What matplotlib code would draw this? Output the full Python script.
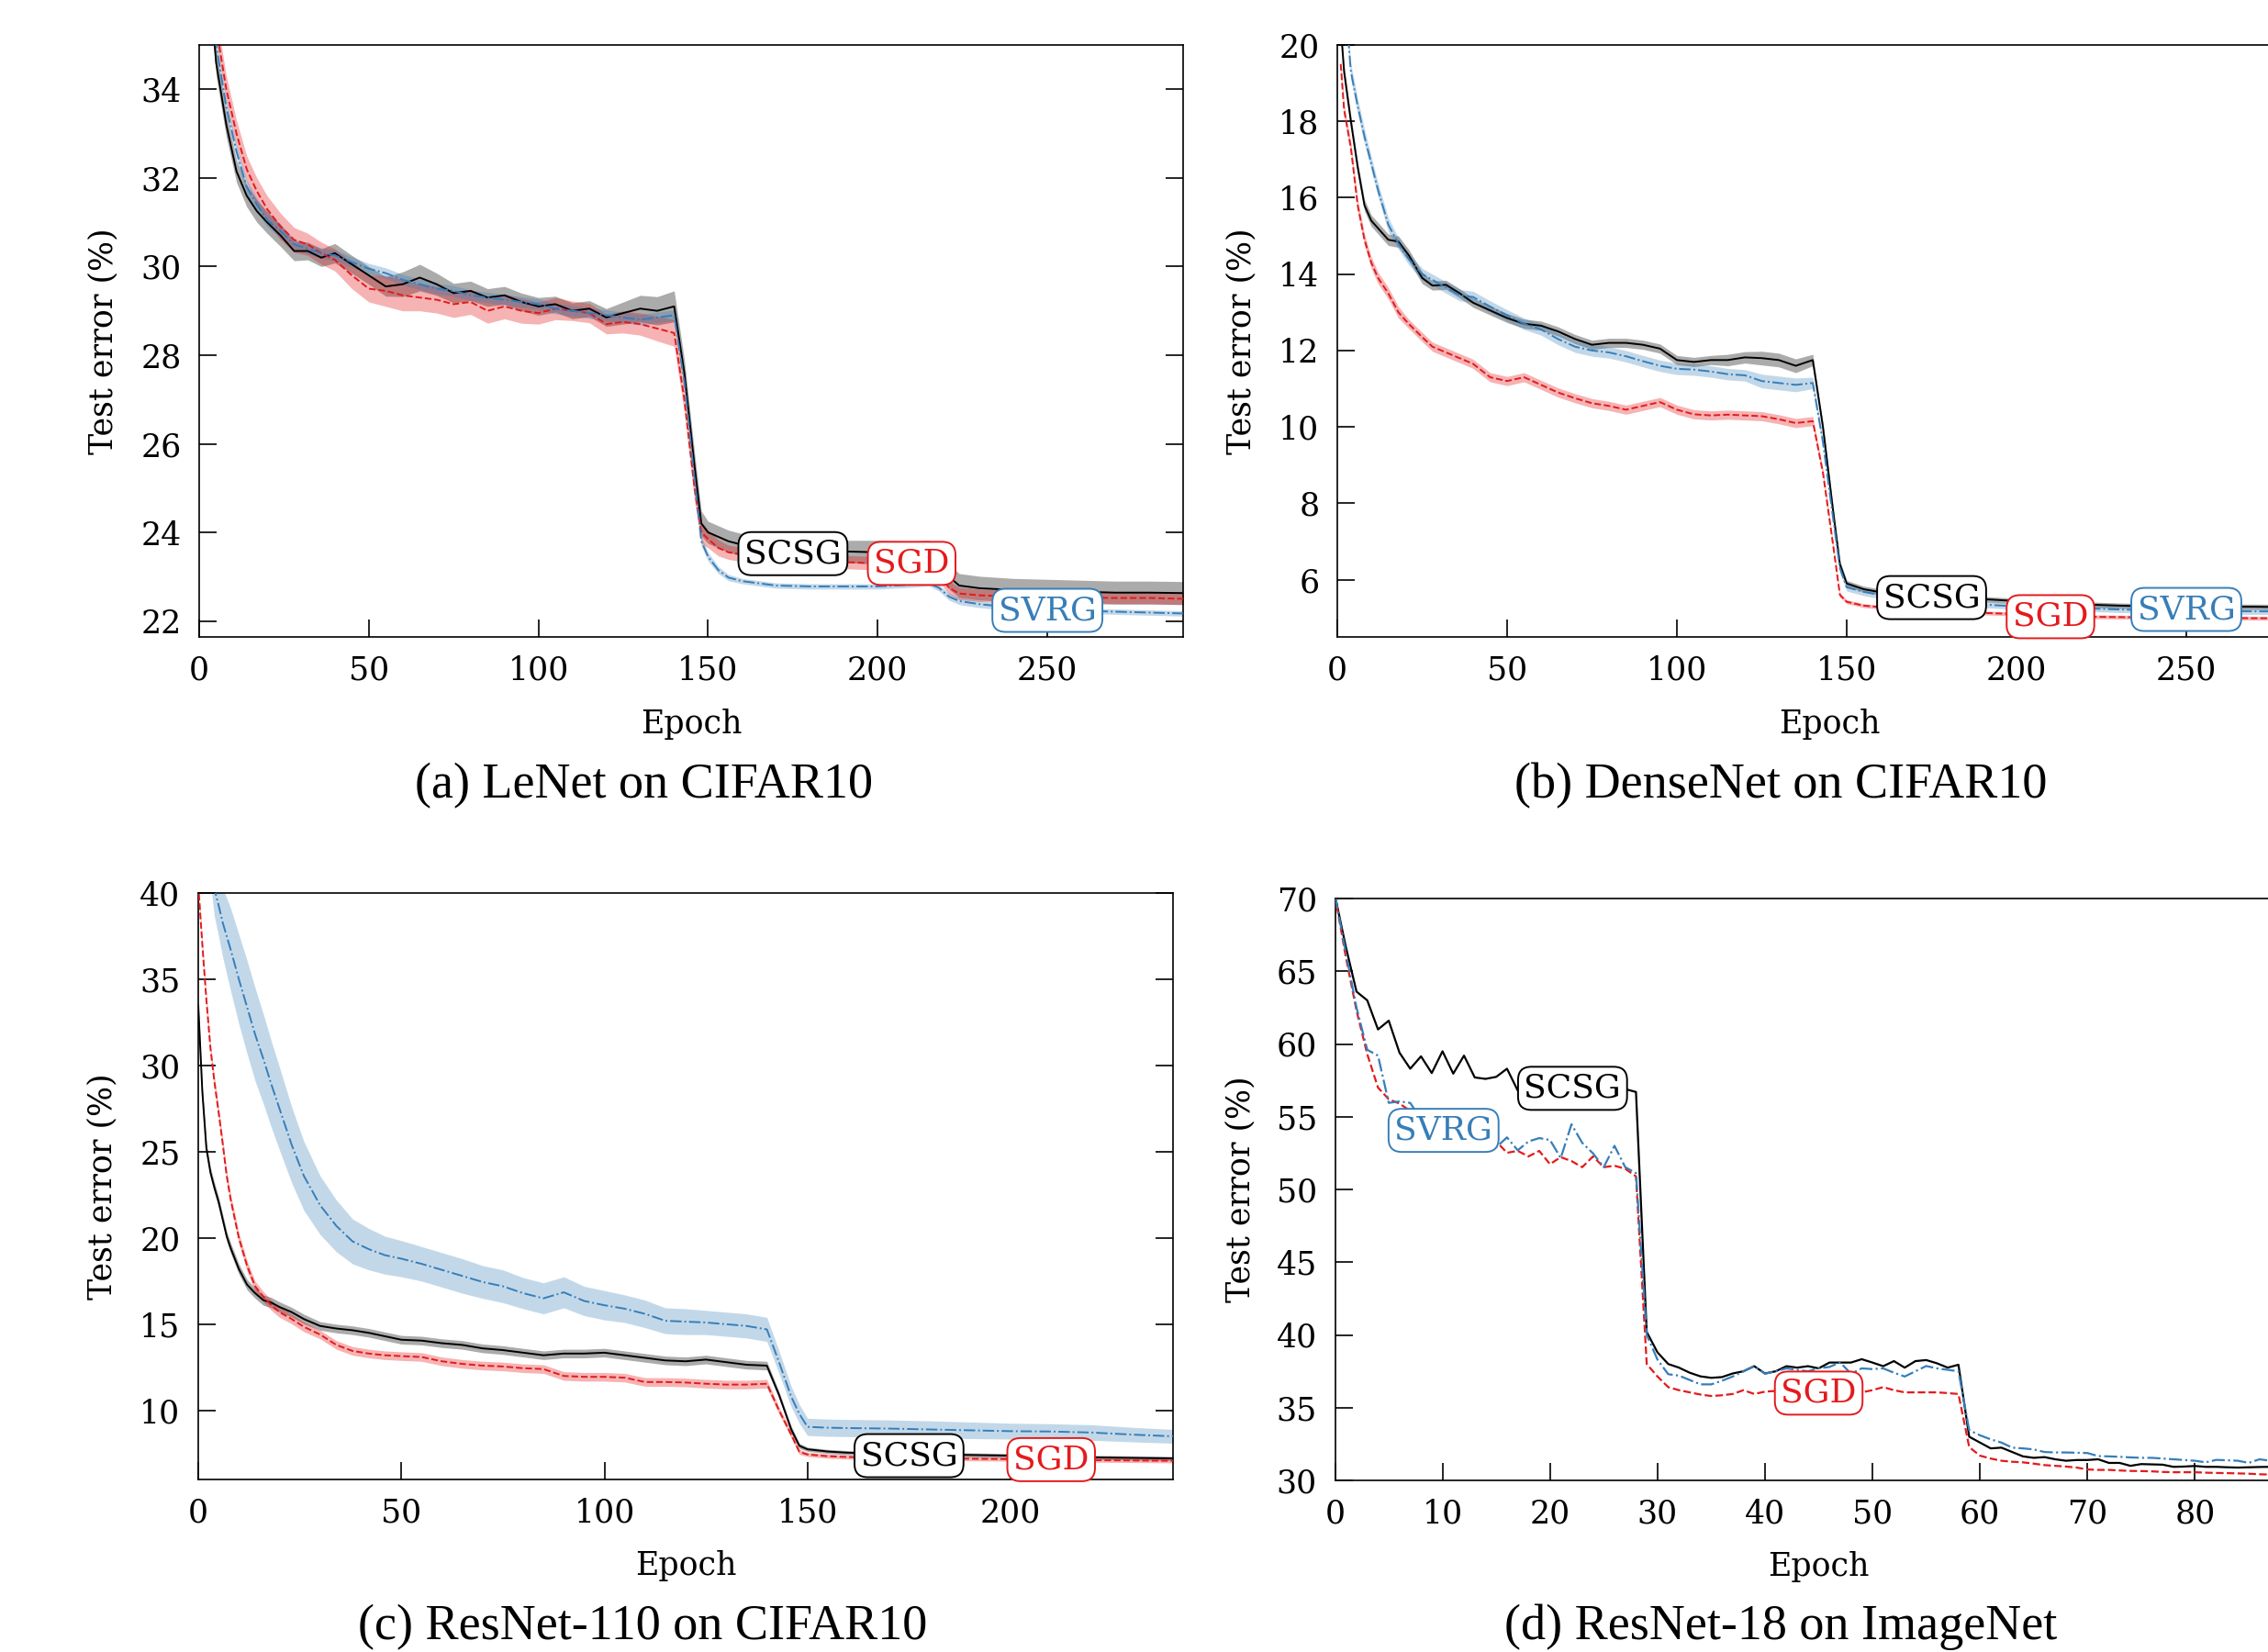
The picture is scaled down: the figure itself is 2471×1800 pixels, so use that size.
import numpy as np
import matplotlib
matplotlib.use("Agg")
import matplotlib.pyplot as plt

plt.rcParams['font.family'] = 'DejaVu Serif'

# ---------------- data: (a) LeNet on CIFAR10 ----------------
a_epoch = [1, 3, 5, 8, 11, 14, 17, 20, 24, 28, 32, 36, 40,
           45, 50, 55, 60, 65, 70, 75, 80, 85, 90, 95, 100, 105, 110, 115, 120, 125, 130, 135, 140,
           143, 146, 148, 150, 153, 156, 160,
           170, 180, 190, 200, 210, 215, 218, 221, 224,
           230, 240, 250, 260, 270, 280, 290]
a_scsg = [38.6, 36.4, 34.6, 33.2, 32.15, 31.6, 31.25, 31.0, 30.7, 30.35, 30.35, 30.2, 30.3,
          30.05, 29.8, 29.55, 29.6, 29.75, 29.6, 29.4, 29.45, 29.3, 29.35, 29.2, 29.1, 29.15, 29.0, 29.05, 28.85, 28.95, 29.05, 29.0, 29.1,
          27.6, 25.5, 24.2, 24.0, 23.9, 23.8, 23.72,
          23.62, 23.58, 23.57, 23.55, 23.5, 23.5, 23.35, 23.0, 22.8,
          22.74, 22.7, 22.68, 22.66, 22.64, 22.64, 22.63]
a_sgd = [39.5, 37.0, 35.4, 34.0, 33.0, 32.2, 31.7, 31.3, 30.9, 30.6, 30.5, 30.3, 30.15,
         29.8, 29.5, 29.45, 29.35, 29.3, 29.25, 29.15, 29.2, 29.0, 29.1, 29.0, 28.95, 29.05, 29.0, 28.95, 28.7, 28.75, 28.7, 28.6, 28.5,
         27.0, 25.0, 24.0, 23.85, 23.65, 23.55, 23.5,
         23.42, 23.38, 23.33, 23.3, 23.28, 23.25, 23.05, 22.75, 22.62,
         22.58, 22.55, 22.54, 22.53, 22.52, 22.52, 22.5]
a_svrg = [39.0, 36.8, 35.0, 33.6, 32.6, 31.8, 31.4, 31.05, 30.8, 30.5, 30.4, 30.3, 30.25,
          30.1, 29.95, 29.85, 29.7, 29.6, 29.5, 29.45, 29.35, 29.3, 29.25, 29.2, 29.15, 29.05, 29.0, 28.95, 28.9, 28.85, 28.8, 28.85, 28.9,
          27.4, 25.2, 23.8, 23.45, 23.15, 22.98, 22.9,
          22.8, 22.78, 22.78, 22.78, 22.82, 22.85, 22.75, 22.55, 22.45,
          22.38, 22.3, 22.26, 22.23, 22.21, 22.19, 22.17]
a_scsg_sd = [0.3, 0.3, 0.3, 0.28, 0.25, 0.25, 0.25, 0.25, 0.25, 0.22, 0.2, 0.2, 0.22,
             0.2, 0.2, 0.22, 0.28, 0.3, 0.25, 0.22, 0.22, 0.2, 0.2, 0.2, 0.2, 0.18, 0.18, 0.18, 0.2, 0.25, 0.3, 0.32, 0.35,
             0.3, 0.3, 0.28, 0.25, 0.25, 0.25, 0.25,
             0.25, 0.25, 0.25, 0.27, 0.3, 0.32, 0.3, 0.28, 0.27,
             0.27, 0.26, 0.26, 0.26, 0.26, 0.26, 0.26]
a_sgd_sd = [0.25, 0.3, 0.3, 0.3, 0.3, 0.3, 0.3, 0.3, 0.3, 0.28, 0.25, 0.25, 0.25,
            0.3, 0.3, 0.35, 0.35, 0.3, 0.3, 0.3, 0.28, 0.28, 0.28, 0.28, 0.25, 0.25, 0.22, 0.22, 0.22, 0.25, 0.25, 0.28, 0.3,
            0.3, 0.3, 0.25, 0.2, 0.18, 0.16, 0.16,
            0.15, 0.15, 0.15, 0.15, 0.15, 0.15, 0.15, 0.15, 0.14,
            0.14, 0.13, 0.13, 0.13, 0.13, 0.13, 0.13]
a_svrg_sd = [0.15, 0.15, 0.15, 0.15, 0.15, 0.15, 0.15, 0.15, 0.15, 0.12, 0.12, 0.12, 0.12,
             0.12, 0.12, 0.12, 0.12, 0.12, 0.12, 0.12, 0.12, 0.12, 0.12, 0.12, 0.12, 0.12, 0.12, 0.12, 0.12, 0.12, 0.12, 0.12, 0.12,
             0.12, 0.12, 0.1, 0.1, 0.08, 0.07, 0.06,
             0.06, 0.06, 0.06, 0.06, 0.06, 0.06, 0.07, 0.08, 0.08,
             0.08, 0.07, 0.07, 0.06, 0.06, 0.06, 0.06]

# ---------------- data: (b) DenseNet on CIFAR10 ----------------
b_epoch = [1, 2, 4, 6, 8, 10, 12, 15, 18, 21, 25, 28, 32, 36, 40,
           45, 50, 55, 60, 65, 70, 75, 80, 85, 90, 95, 100, 105, 110, 115, 120, 125, 130, 135, 140,
           143, 146, 148, 150, 155, 160,
           170, 180, 190, 200, 210, 220, 230, 240, 250, 260, 270, 280, 290]
b_scsg = [20.5, 19.3, 18.0, 16.8, 15.8, 15.4, 15.2, 14.9, 14.85, 14.5, 13.9, 13.7, 13.72, 13.5, 13.25,
          13.05, 12.85, 12.7, 12.65, 12.5, 12.3, 12.15, 12.2, 12.2, 12.15, 12.05, 11.75, 11.7, 11.75, 11.75, 11.82, 11.8, 11.75, 11.6, 11.75,
          10.0, 7.8, 6.4, 5.9, 5.75, 5.67,
          5.58, 5.52, 5.49, 5.44, 5.4, 5.35, 5.32, 5.3, 5.3, 5.29, 5.29, 5.28, 5.28]
b_sgd = [19.5, 18.3, 17.3, 15.8, 14.9, 14.3, 13.9, 13.5, 13.0, 12.7, 12.35, 12.1, 11.95, 11.8, 11.65,
         11.3, 11.2, 11.3, 11.1, 10.9, 10.75, 10.62, 10.55, 10.45, 10.55, 10.65, 10.45, 10.33, 10.3, 10.32, 10.3, 10.28, 10.2, 10.1, 10.15,
         8.8, 6.9, 5.6, 5.42, 5.32, 5.28,
         5.22, 5.17, 5.13, 5.1, 5.06, 5.03, 5.02, 5.01, 5.0, 5.0, 4.99, 4.99, 4.99]
b_svrg = [23.0, 21.5, 19.3, 18.4, 17.6, 16.9, 16.2, 15.3, 14.8, 14.4, 14.0, 13.85, 13.65, 13.45, 13.4,
          13.15, 12.92, 12.7, 12.55, 12.3, 12.1, 12.0, 11.95, 11.85, 11.72, 11.6, 11.52, 11.5, 11.45, 11.38, 11.35, 11.2, 11.15, 11.1, 11.15,
          9.6, 7.6, 6.3, 5.8, 5.68, 5.6,
          5.5, 5.42, 5.35, 5.3, 5.27, 5.25, 5.22, 5.2, 5.19, 5.18, 5.17, 5.17, 5.16]
b_scsg_sd = [0.15, 0.15, 0.15, 0.15, 0.15, 0.15, 0.15, 0.15, 0.15, 0.15, 0.15, 0.12, 0.12, 0.12, 0.12,
             0.12, 0.12, 0.12, 0.12, 0.12, 0.12, 0.12, 0.12, 0.12, 0.12, 0.12, 0.12, 0.12, 0.12, 0.15, 0.15, 0.18, 0.18, 0.18, 0.15,
             0.12, 0.1, 0.1, 0.08, 0.08, 0.08,
             0.07, 0.07, 0.07, 0.07, 0.07, 0.07, 0.07, 0.07, 0.07, 0.07, 0.07, 0.07, 0.07]
b_sgd_sd = [0.15, 0.15, 0.15, 0.15, 0.15, 0.15, 0.15, 0.15, 0.15, 0.12, 0.12, 0.12, 0.12, 0.12, 0.12,
            0.12, 0.12, 0.12, 0.12, 0.12, 0.12, 0.12, 0.12, 0.12, 0.12, 0.12, 0.12, 0.12, 0.12, 0.12, 0.12, 0.12, 0.12, 0.12, 0.12,
            0.1, 0.08, 0.06, 0.05, 0.05, 0.05,
            0.05, 0.05, 0.05, 0.05, 0.05, 0.05, 0.05, 0.05, 0.05, 0.05, 0.05, 0.05, 0.05]
b_svrg_sd = [0.2, 0.2, 0.2, 0.2, 0.2, 0.18, 0.18, 0.18, 0.15, 0.15, 0.15, 0.15, 0.15, 0.15, 0.15,
             0.15, 0.15, 0.15, 0.15, 0.15, 0.15, 0.15, 0.15, 0.15, 0.15, 0.15, 0.15, 0.15, 0.15, 0.15, 0.15, 0.18, 0.18, 0.18, 0.15,
             0.12, 0.12, 0.12, 0.1, 0.1, 0.1,
             0.08, 0.08, 0.08, 0.08, 0.08, 0.08, 0.08, 0.08, 0.08, 0.08, 0.08, 0.08, 0.08]

# ---------------- data: (c) ResNet-110 on CIFAR10 ----------------
c_epoch = [0, 1, 2, 3, 4, 5, 6, 7, 8,
           10, 12, 14, 16, 18, 20,
           23, 26, 30, 34, 38, 42, 46, 50,
           55, 60, 65, 70, 75, 80, 85, 90, 95, 100, 105, 110, 115, 120, 125, 130, 135, 140,
           143, 146, 148, 150, 155, 160,
           170, 180, 190, 200, 210, 220, 230, 240]
c_scsg = [33.5, 28.5, 25.2, 23.8, 22.9, 22.1, 21.1, 20.1, 19.4,
          18.2, 17.3, 16.8, 16.4, 16.25, 16.0,
          15.7, 15.3, 14.9, 14.75, 14.65, 14.5, 14.3, 14.1,
          14.05, 13.9, 13.8, 13.6, 13.5, 13.35, 13.2, 13.3, 13.3, 13.35, 13.2, 13.05, 12.9, 12.85, 12.95, 12.8, 12.65, 12.6,
          10.9, 8.9, 7.95, 7.75, 7.62, 7.55,
          7.5, 7.45, 7.42, 7.38, 7.32, 7.28, 7.25, 7.22]
c_sgd = [40.5, 37.0, 33.8, 31.0, 29.0, 27.3, 25.5, 23.6, 22.2,
         20.0, 18.4, 17.2, 16.6, 16.1, 15.7,
         15.3, 14.85, 14.4, 13.8, 13.45, 13.3, 13.2, 13.15,
         13.1, 12.85, 12.7, 12.6, 12.55, 12.45, 12.4, 12.0, 11.95, 11.95, 11.9, 11.65, 11.65, 11.62, 11.55, 11.5, 11.5, 11.55,
         10.0, 8.6, 7.6, 7.45, 7.35, 7.3,
         7.27, 7.24, 7.2, 7.18, 7.15, 7.12, 7.1, 7.08]
c_svrg = [58.0, 51.0, 45.0, 42.0, 40.2, 39.3, 38.3, 37.5, 36.7,
          35.0, 33.4, 31.8, 30.4, 28.9, 27.5,
          25.4, 23.6, 21.9, 20.7, 19.8, 19.35, 19.0, 18.8,
          18.5, 18.15, 17.8, 17.45, 17.2, 16.8, 16.5, 16.85, 16.35, 16.1, 15.9, 15.6, 15.2, 15.15, 15.1, 15.0, 14.9, 14.7,
          12.8, 10.8, 9.8, 9.05, 9.0, 8.98,
          8.95, 8.9, 8.85, 8.8, 8.78, 8.72, 8.6, 8.5]
c_scsg_sd = [0.3, 0.3, 0.3, 0.3, 0.3, 0.3, 0.3, 0.3, 0.3,
             0.3, 0.3, 0.3, 0.3, 0.3, 0.3,
             0.28, 0.28, 0.25, 0.25, 0.25, 0.25, 0.25, 0.25,
             0.25, 0.25, 0.25, 0.25, 0.25, 0.25, 0.25, 0.25, 0.25, 0.25, 0.25, 0.25, 0.25, 0.25, 0.25, 0.25, 0.25, 0.25,
             0.2, 0.2, 0.15, 0.12, 0.12, 0.12,
             0.12, 0.12, 0.12, 0.12, 0.12, 0.12, 0.12, 0.12]
c_sgd_sd = [0.3, 0.3, 0.3, 0.3, 0.3, 0.3, 0.3, 0.3, 0.3,
            0.3, 0.3, 0.3, 0.3, 0.3, 0.3,
            0.28, 0.28, 0.25, 0.25, 0.25, 0.25, 0.25, 0.25,
            0.25, 0.25, 0.25, 0.25, 0.25, 0.25, 0.25, 0.25, 0.25, 0.25, 0.25, 0.25, 0.25, 0.25, 0.25, 0.25, 0.25, 0.25,
            0.2, 0.2, 0.15, 0.12, 0.12, 0.12,
            0.12, 0.12, 0.12, 0.12, 0.12, 0.12, 0.12, 0.12]
c_svrg_sd = [1.0, 1.0, 1.2, 1.4, 1.6, 1.8, 2.0, 2.2, 2.4,
             2.6, 2.7, 2.7, 2.6, 2.5, 2.4,
             2.2, 2.0, 1.7, 1.5, 1.3, 1.2, 1.1, 1.05,
             1.0, 1.0, 1.0, 0.95, 0.95, 0.9, 0.9, 0.9, 0.85, 0.85, 0.8, 0.8, 0.75, 0.75, 0.7, 0.7, 0.7, 0.7,
             0.65, 0.6, 0.55, 0.5, 0.5, 0.5,
             0.5, 0.5, 0.48, 0.46, 0.45, 0.45, 0.42, 0.4]

# ---------------- data: (d) ResNet-18 on ImageNet ----------------
d_epoch = list(range(0, 91))
d_scsg = [70.2, 66.7, 63.6, 63.0, 61.0, 61.6, 59.4, 58.3, 59.15, 58.0,
          59.5, 57.96, 59.2, 57.7, 57.6, 57.74, 58.3, 56.8, 57.3, 57.0,
          57.2, 56.9, 57.1, 56.9, 57.0, 56.9, 57.0, 56.9, 56.7, 40.2,
          38.8, 38.0, 37.75, 37.4, 37.15, 37.05, 37.1, 37.35, 37.5, 37.85,
          37.35, 37.5, 37.85, 37.75, 37.85, 37.7, 38.1, 38.1, 38.1, 38.33,
          38.1, 37.85, 38.2, 37.75, 38.2, 38.27, 38.05, 37.75, 37.95, 33.0,
          32.6, 32.2, 32.25, 31.95, 31.65, 31.55, 31.6, 31.45, 31.35, 31.4,
          31.4, 31.45, 31.2, 31.2, 31.0, 31.12, 31.1, 31.08, 30.93, 30.95,
          30.99, 30.93, 30.93, 30.9, 30.88, 30.9, 30.92, 30.93, 30.9, 30.9, 30.9]
d_sgd = [70.2, 66.0, 62.3, 59.3, 57.0, 56.2, 55.9, 55.4, 55.0, 54.7,
         54.4, 54.2, 54.0, 53.9, 53.8, 53.3, 52.52, 52.65, 52.27, 52.65,
         51.74, 52.22, 51.95, 51.53, 52.27, 51.53, 51.63, 51.42, 50.9, 38.0,
         37.14, 36.41, 36.2, 36.05, 35.9, 35.8, 35.85, 35.94, 36.2, 35.94,
         36.1, 36.15, 36.15, 36.1, 36.1, 36.1, 36.15, 36.1, 36.05, 36.05,
         36.2, 36.41, 36.2, 36.05, 36.05, 36.05, 36.05, 36.0, 35.94, 32.29,
         31.7, 31.5, 31.35, 31.28, 31.24, 31.15, 31.05, 31.0, 30.95, 30.88,
         30.75, 30.72, 30.72, 30.68, 30.65, 30.64, 30.62, 30.58, 30.56, 30.56,
         30.56, 30.53, 30.51, 30.5, 30.48, 30.46, 30.42, 30.4, 30.4, 30.4, 30.4]
d_svrg = [70.2, 66.3, 62.5, 59.6, 59.2, 55.95, 56.05, 55.95, 54.8, 54.2,
          53.9, 53.6, 53.3, 53.1, 52.9, 52.9, 53.58, 52.69, 53.3, 53.53,
          53.4, 52.16, 54.48, 53.2, 52.48, 51.53, 53.0, 51.53, 51.12, 40.0,
          38.3, 37.3, 37.2, 36.9, 36.6, 36.6, 36.85, 37.14, 37.5, 37.86,
          37.33, 37.5, 37.7, 37.6, 37.5, 37.7, 37.8, 38.11, 37.33, 37.7,
          37.65, 37.7, 37.4, 37.14, 37.5, 37.86, 37.7, 37.6, 37.5, 33.45,
          33.1, 32.82, 32.6, 32.25, 32.2, 32.13, 31.95, 31.92, 31.92, 31.9,
          31.88, 31.67, 31.65, 31.62, 31.58, 31.55, 31.55, 31.5, 31.45, 31.4,
          31.35, 31.24, 31.41, 31.38, 31.35, 31.2, 31.45, 31.35, 31.35, 31.35, 31.35]

# label positions (epoch, error) per panel
a_labels = [(175, 23.52), (210, 23.3), (250, 22.24)]
b_labels = [(175, 5.53), (210, 5.03), (250, 5.22)]
c_labels = [(175, 7.38), (210, 7.15), None]
d_labels = [(22.1, 56.95), (45.0, 36.0), (10.1, 54.06)]

names = ['SCSG', 'SGD', 'SVRG']
colors = ['black', '#e41a1c', '#377eb8']
styles = ['-', '--', '-.']
band_alpha = [0.33, 0.33, 0.3]

fig = plt.figure(figsize=(2471 / 200, 1800 / 200), dpi=200)


def draw(rect, ep, vals, sds, labels, xlim, ylim, xticks, yticks, lw=0.7):
    ax = fig.add_axes(rect)
    ep = np.array(ep)
    for i in range(3):
        v = np.array(vals[i])
        if sds is not None:
            sd = np.array(sds[i])
            ax.fill_between(ep, v - sd, v + sd, color=colors[i], alpha=band_alpha[i],
                            lw=0, zorder=1)
    for i in range(3):
        ax.plot(ep, vals[i], color=colors[i], ls=styles[i], lw=lw, zorder=3)
    for i in range(3):
        if labels[i] is None:
            continue
        x, y = labels[i]
        ax.text(x, y, names[i], color=colors[i], fontsize=13, ha='center', va='center',
                zorder=6,
                bbox=dict(boxstyle='round,pad=0.18,rounding_size=0.4', fc='white',
                          ec=colors[i], lw=0.7))
    ax.set_xlim(*xlim)
    ax.set_ylim(*ylim)
    ax.set_xticks(xticks)
    ax.set_yticks(yticks)
    ax.tick_params(direction='in', length=7, width=0.6, pad=7, labelsize=12.5,
                   right=True, top=False)
    for s in ax.spines.values():
        s.set_linewidth(0.6)
    ax.set_xlabel('Epoch', fontsize=12.5)
    ax.set_ylabel('Test error (%)', fontsize=12.5)
    ax.xaxis.set_label_coords(0.5, -0.121)
    ax.yaxis.set_label_coords(-0.082, 0.5)
    return ax


draw([217 / 2471, 1 - 694 / 1800, 1072 / 2471, 645 / 1800],
     a_epoch, [a_scsg, a_sgd, a_svrg], [a_scsg_sd, a_sgd_sd, a_svrg_sd], a_labels,
     (0, 290), (21.64, 35), range(0, 300, 50), range(22, 35, 2))
draw([1457 / 2471, 1 - 694 / 1800, 1073 / 2471, 645 / 1800],
     b_epoch, [b_scsg, b_sgd, b_svrg], [b_scsg_sd, b_sgd_sd, b_svrg_sd], b_labels,
     (0, 290), (4.5, 20), range(0, 300, 50), range(6, 21, 2))
draw([216 / 2471, 1 - 1612 / 1800, 1062 / 2471, 639 / 1800],
     c_epoch, [c_scsg, c_sgd, c_svrg], [c_scsg_sd, c_sgd_sd, c_svrg_sd], c_labels,
     (0, 240), (6, 40), range(0, 250, 50), range(10, 41, 5))
draw([1454.5 / 2471, 1 - 1613 / 1800, 1054 / 2471, 634 / 1800],
     d_epoch, [d_scsg, d_sgd, d_svrg], None, d_labels,
     (0, 90), (30, 70), range(0, 81, 10), range(30, 71, 5), lw=0.8)

caps = [(701, 856, '(a) LeNet on CIFAR10'), (1940, 856, '(b) DenseNet on CIFAR10'),
        (700, 1773, '(c) ResNet-110 on CIFAR10'), (1940, 1773, '(d) ResNet-18 on ImageNet')]
for x, y, t in caps:
    fig.text(x / 2471, 1 - y / 1800, t, ha='center', va='center', fontsize=19.5,
             family='Liberation Serif')

fig.savefig('out.png', dpi=200)
